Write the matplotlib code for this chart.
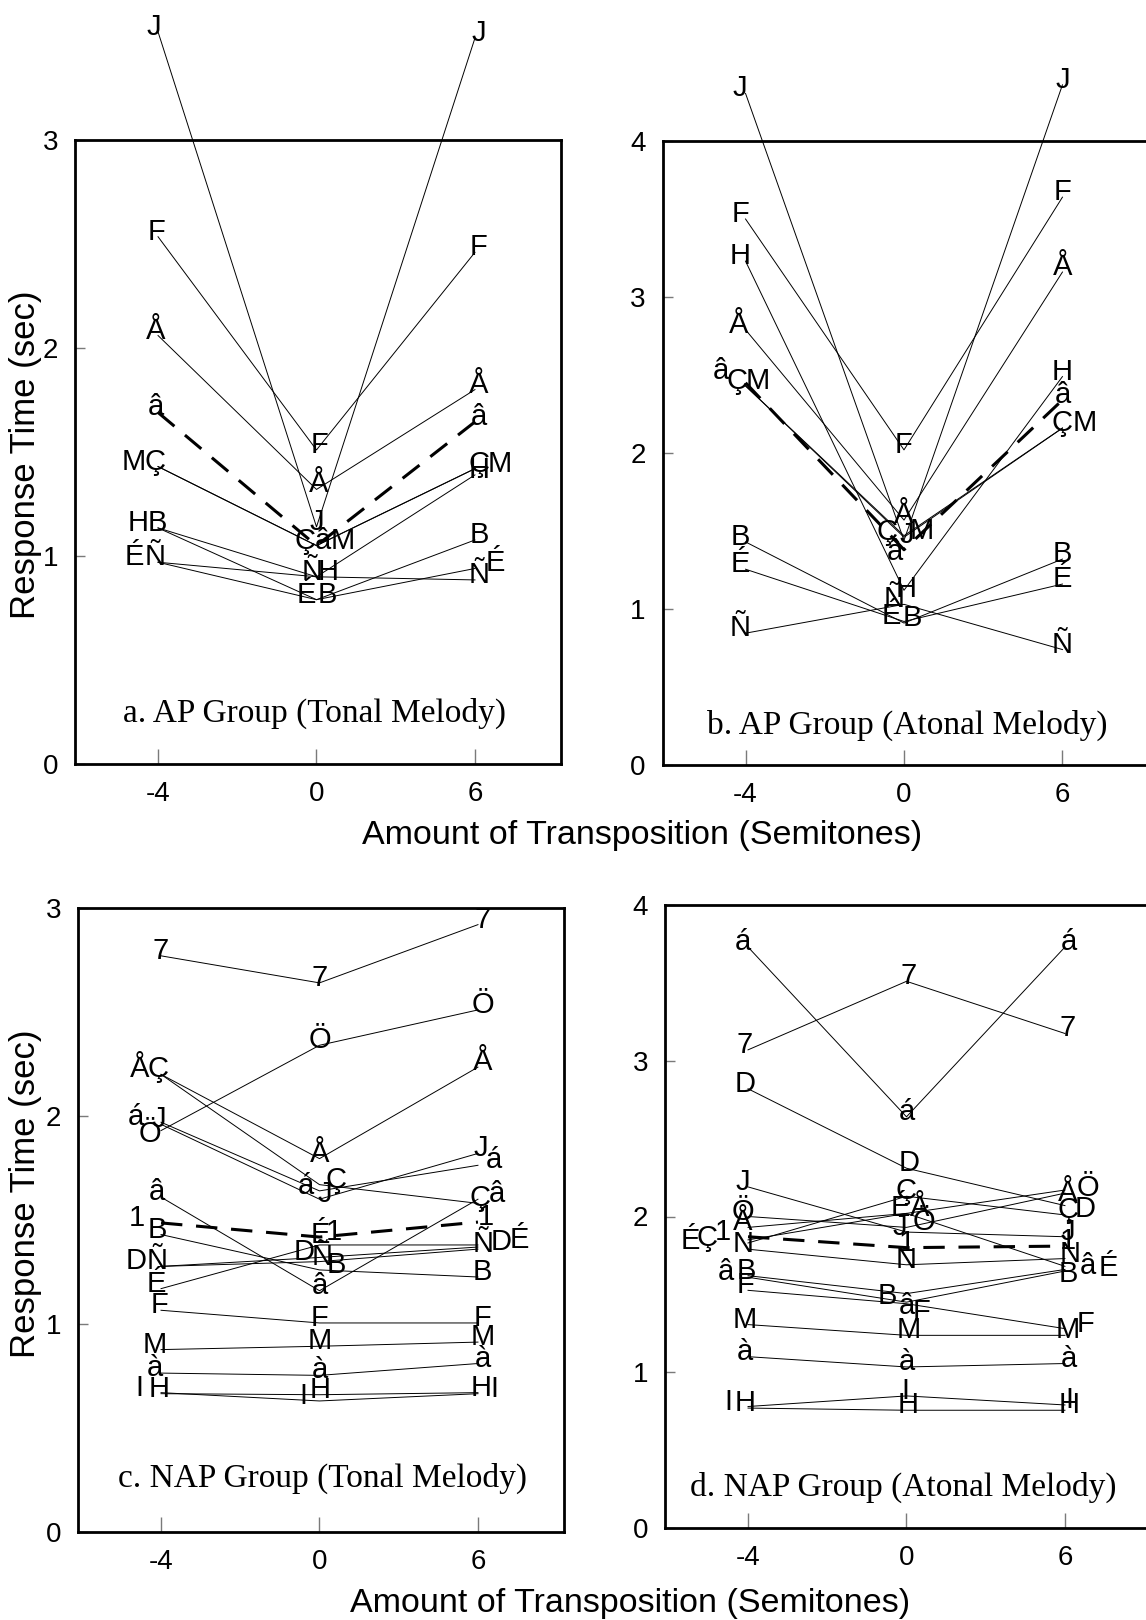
import matplotlib
matplotlib.use('Agg')
import matplotlib.pyplot as plt
from matplotlib.transforms import offset_copy

plt.rcParams['font.family'] = ['Liberation Sans', 'DejaVu Sans']

transposition = ['-4', '0', '6']

# ---------------- panel a : AP group, tonal melody ----------------
a_subjects = ['J', 'F', 'Å', 'M', 'Ç', 'H', 'B', 'É', 'Ñ']
a_minus4 = [3.52, 2.535, 2.06, 1.43, 1.43, 1.135, 1.135, 0.97, 0.97]
a_zero = [1.14, 1.51, 1.32, 1.05, 1.05, 0.90, 0.79, 0.79, 0.90]
a_plus6 = [3.49, 2.46, 1.80, 1.42, 1.42, 1.39, 1.077, 0.94, 0.885]
a_mean = [1.69, 1.05, 1.645]
a_mean_symbol = 'â'
a_title = 'a. AP Group (Tonal Melody)'

# ---------------- panel b : AP group, atonal melody ----------------
b_subjects = ['J', 'F', 'H', 'Å', 'Ç', 'M', 'B', 'É', 'Ñ']
b_minus4 = [4.305, 3.50, 3.23, 2.79, 2.43, 2.43, 1.43, 1.255, 0.845]
b_zero = [1.44, 2.02, 1.12, 1.57, 1.46, 1.47, 0.91, 0.92, 1.03]
b_plus6 = [4.36, 3.64, 2.49, 3.16, 2.16, 2.16, 1.32, 1.16, 0.74]
b_mean = [2.45, 1.38, 2.34]
b_mean_symbol = 'â'
b_title = 'b. AP Group (Atonal Melody)'

# ---------------- panel c : NAP group, tonal melody ----------------
c_subjects = ['7', 'Ö', 'Å', 'Ç', 'á', 'J', 'â', 'B', 'D', 'Ñ', 'É', 'F', 'M', 'à', 'I', 'H']
c_minus4 = [2.77, 1.93, 2.20, 2.20, 1.97, 1.96, 1.61, 1.43, 1.277, 1.277, 1.17, 1.066, 0.877, 0.764, 0.67, 0.665]
c_zero = [2.64, 2.34, 1.795, 1.67, 1.64, 1.60, 1.16, 1.26, 1.32, 1.30, 1.38, 1.005, 0.893, 0.753, 0.63, 0.66]
c_plus6 = [2.92, 2.51, 2.235, 1.58, 1.763, 1.82, 1.60, 1.226, 1.37, 1.36, 1.38, 1.005, 0.913, 0.81, 0.665, 0.67]
c_mean = [1.486, 1.418, 1.49]
c_mean_symbol = '1'
c_title = 'c. NAP Group (Tonal Melody)'

# ---------------- panel d : NAP group, atonal melody ----------------
d_subjects = ['á', '7', 'D', 'J', 'Ö', 'Å', 'É', 'Ç', 'N', 'â', 'B', 'F', 'M', 'à', 'I', 'H']
d_minus4 = [3.73, 3.07, 2.82, 2.19, 2.00, 1.93, 1.85, 1.83, 1.79, 1.61, 1.62, 1.526, 1.306, 1.10, 0.78, 0.77]
d_zero = [2.64, 3.51, 2.31, 1.90, 1.93, 2.02, 2.02, 2.13, 1.69, 1.45, 1.505, 1.44, 1.237, 1.034, 0.848, 0.756]
d_plus6 = [3.73, 3.175, 2.07, 1.87, 2.15, 2.17, 1.68, 2.01, 1.73, 1.65, 1.66, 1.28, 1.237, 1.056, 0.79, 0.756]
d_mean = [1.87, 1.80, 1.81]
d_mean_symbol = '1'
d_title = 'd. NAP Group (Atonal Melody)'

y_label = 'Response Time (sec)'
x_label = 'Amount of Transposition (Semitones)'

# ---------------- label placement (pixel nudges so symbols sit side by side) ----------------
a_dx = {'J': (-4, 0, 4), 'F': (-2, 3, 4), 'Å': (-2, 2, 4), 'M': (-24, 26, 25), 'Ç': (-3, -11, 4),
        'H': (-20, 12, 4), 'B': (-1, 11, 4), 'É': (-24, -10, 20), 'Ñ': (-3, -4, 4), 'mean': (-2, 6, 4)}
a_dy = {}
b_dx = {'J': (-6, 3, 0), 'F': (-5, 0, 0), 'H': (-5, 2, 0), 'Å': (-7, 0, 0), 'Ç': (-9, -17, 0),
        'M': (12, 18, 22), 'B': (-5, 8, 0), 'É': (-5, -13, 0), 'Ñ': (-5, -10, 0), 'mean': (-25, -9, 0)}
b_dy = {('mean', 0): 7, ('mean', 1): -7, ('H', 1): -4}
c_dx = {'7': (0, 0, 5), 'Ö': (-11, 0, 5), 'Å': (-21, 0, 5), 'Ç': (-3, 17, 2), 'á': (-25, -14, 16),
        'J': (-2, 5, 3), 'â': (-4, 0, 19), 'B': (-4, 17, 4), 'D': (-25, -15, 23), 'Ñ': (-4, 3, 5),
        'É': (-5, 1, 41), 'F': (-2, 0, 5), 'M': (-6, 0, 5), 'à': (-6, 0, 5), 'I': (-22, -16, 16),
        'H': (-2, 1, 3), 'mean': (-24, 14, 8)}
c_dy = {('Ö', 0): -8, ('É', 1): 5}
d_dx = {'á': (-5, 0, 4), '7': (-3, 2, 3), 'D': (-3, 3, 20), 'J': (-5, -7, 3), 'Ö': (-5, 17, 23),
        'Å': (-5, 13, 3), 'É': (-58, -6, 43), 'Ç': (-41, 0, 3), 'N': (-5, 0, 5), 'â': (-22, 0, 23),
        'B': (-2, -19, 3), 'F': (-3, 15, 21), 'M': (-3, 2, 3), 'à': (-3, 0, 4), 'I': (-20, -1, 4),
        'H': (-3, 2, 4), 'mean': (-25, 0, 3)}
d_dy = {('É', 0): -6, ('B', 1): -7, ('â', 1): -9, ('F', 1): -13, ('É', 2): -7, ('B', 2): -10,
        ('D', 2): -8, ('Å', 2): -8}

W, H = 1146, 1620
fig = plt.figure(figsize=(W / 100, H / 100), dpi=100)
fig.patch.set_facecolor('white')


def ax_at(left, top, width, height):
    return fig.add_axes([left / W, 1 - (top + height) / H, width / W, height / H])


LETTER = dict(fontsize=21, ha='center', va='baseline', color='black', clip_on=False, zorder=4)
SERIF = ['Liberation Serif', 'DejaVu Serif']


def draw_panel(ax, subjects, m4, z, p6, mean, mean_sym, dx, dy, ymax, title, tpos):
    xs = [0, 1, 2]
    ax.set_xlim(-0.524, 2.543)
    ax.set_ylim(0, ymax)
    for lab, v1, v2, v3 in zip(subjects, m4, z, p6):
        vals = (v1, v2, v3)
        ax.plot(xs, vals, color='black', lw=0.7, clip_on=False, zorder=2)
        offs = dx.get(lab, (0, 0, 0))
        for i, v in enumerate(vals):
            tr = offset_copy(ax.transData, fig=fig, x=offs[i], y=dy.get((lab, i), 0) - 3, units='dots')
            ax.text(xs[i], v, lab, transform=tr, **LETTER)
    ax.plot(xs, mean, color='black', lw=2.2, dashes=(7, 4.5), clip_on=False, zorder=3)
    offs = dx.get('mean', (0, 0, 0))
    for i, v in enumerate(mean):
        tr = offset_copy(ax.transData, fig=fig, x=offs[i], y=dy.get(('mean', i), 0) - 3, units='dots')
        ax.text(xs[i], v, mean_sym, transform=tr, **LETTER)

    ax.set_xticks(xs)
    ax.set_xticklabels(transposition)
    ax.set_yticks(range(ymax + 1))
    ax.set_yticklabels([str(t) for t in range(ymax + 1)])
    ax.tick_params(axis='x', direction='in', length=11, width=1, color='#7a7a7a', pad=12,
                   labelsize=20)
    ax.tick_params(axis='y', direction='in', length=7, width=1, color='#7a7a7a', pad=12,
                   labelsize=20)
    for s in ax.spines.values():
        s.set_linewidth(2.0)
        s.set_color('black')
    ax.text(tpos[0], tpos[1], title, transform=ax.transAxes, ha='center', va='baseline',
            fontsize=24, family=SERIF)


ax_a = ax_at(75, 140, 486, 624)
ax_b = ax_at(662.5, 141, 486, 624)
ax_c = ax_at(78, 908, 486, 624)
ax_d = ax_at(665, 905, 486, 623)

draw_panel(ax_a, a_subjects, a_minus4, a_zero, a_plus6, a_mean, a_mean_symbol, a_dx, a_dy, 3,
           a_title, (0.492, 0.068))
draw_panel(ax_b, b_subjects, b_minus4, b_zero, b_plus6, b_mean, b_mean_symbol, b_dx, b_dy, 4,
           b_title, (0.504, 0.050))
draw_panel(ax_c, c_subjects, c_minus4, c_zero, c_plus6, c_mean, c_mean_symbol, c_dx, c_dy, 3,
           c_title, (0.503, 0.072))
draw_panel(ax_d, d_subjects, d_minus4, d_zero, d_plus6, d_mean, d_mean_symbol, d_dx, d_dy, 4,
           d_title, (0.490, 0.052))

fig.text(26 / W, 1 - 455 / H, y_label, rotation=90, ha='center', va='center', fontsize=25)
fig.text(26 / W, 1 - 1194 / H, y_label, rotation=90, ha='center', va='center', fontsize=25)
fig.text(642 / W, 1 - 844 / H, x_label, ha='center', va='baseline', fontsize=24.5)
fig.text(630 / W, 1 - 1612 / H, x_label, ha='center', va='baseline', fontsize=24.5)

fig.savefig('out.png', dpi=100, facecolor='white')
